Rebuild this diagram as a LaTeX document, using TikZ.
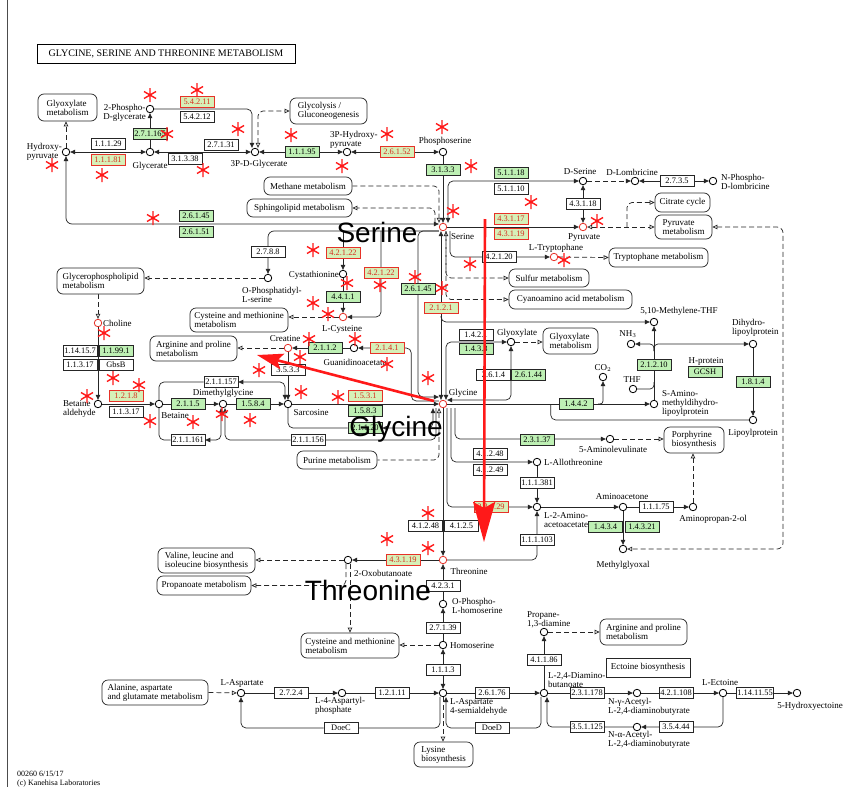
\documentclass[tikz,border=0pt]{standalone}
\usepackage{fontspec}
\setmainfont{Liberation Serif}
\newfontfamily\bigsans{Liberation Sans}
\usetikzlibrary{arrows.meta}
\pgfdeclarelayer{bg}
\pgfdeclarelayer{fg}
\pgfsetlayers{bg,main,fg}
\definecolor{kgreen}{RGB}{190,240,180}
\definecolor{kyel}{RGB}{214,240,184}
\definecolor{kred}{RGB}{215,45,30}
\definecolor{kbord}{RGB}{230,50,40}
\definecolor{astred}{RGB}{255,25,25}
\begin{document}
\begin{tikzpicture}[x=1pt,y=-1pt,
 cpd/.style={circle,draw=black,line width=0.8pt,minimum size=7.5pt,inner sep=0pt,fill=white},
 cpdr/.style={cpd,draw=kbord},
 lb/.style={inner sep=0pt,font=\fontsize{9}{9}\selectfont,align=center},
 ez/.style={draw=black!85,line width=0.6pt,fill=white,minimum width=34pt,minimum height=11pt,inner sep=0.6pt,font=\fontsize{8.4}{8.4}\selectfont},
 ezg/.style={ez,fill=kgreen},
 ezr/.style={ez,fill=kyel,draw=kbord,text=kred},
 pw/.style={draw=black!85,line width=0.7pt,rounded corners=6pt,fill=white,inner sep=0pt,align=left,font=\fontsize{9}{9}\selectfont},
 rx/.style={line width=0.7pt,draw=black!85},
 dsh/.style={line width=0.7pt,draw=black!85,dash pattern=on 5pt off 3pt},
 ar/.style={-{Triangle[length=5pt,width=4.5pt]}},
 ab/.style={{Triangle[length=5pt,width=4.5pt]}-{Triangle[length=5pt,width=4.5pt]}},
 oa/.style={-{Triangle[open,length=5pt,width=4.5pt]}},
 oab/.style={{Triangle[open,length=5pt,width=4.5pt]}-{Triangle[open,length=5pt,width=4.5pt]}},
 roa/.style={{Triangle[open,length=5pt,width=4.5pt]}-},
 ast/.pic={\draw[astred,line width=1.4pt] (0,-7)--(0,7) (-6,-3.5)--(6,3.5) (-6,3.5)--(6,-3.5);},
 bigl/.style={font=\bigsans\fontsize{28}{28}\selectfont,inner sep=0pt,anchor=base}
]
\useasboundingbox (0,0) rectangle (846,787);
\begin{pgfonlayer}{bg}
\fill[white] (0,0) rectangle (846,787);
\end{pgfonlayer}
\coordinate (bt) at (7,0); \coordinate (bb) at (7,787);
\draw[line width=0.8pt,black!70] (bt) -- (bb);

\node[draw=black,line width=0.9pt,minimum width=258pt,minimum height=19pt,inner sep=0pt,font=\fontsize{10}{10}\selectfont] (title) at (166,54) {GLYCINE, SERINE AND THREONINE METABOLISM};
\node[lb,anchor=north west,align=left,font=\fontsize{8}{8.5}\selectfont] (foot) at (17,771) {00260 6/15/17\\(c) Kanehisa Laboratories};

% pathway boxes
\node[pw,minimum width=59pt,minimum height=27pt] (pwGlyox1) at (67.5,107.5) {Glyoxylate\\metabolism};
\node[pw,minimum width=77pt,minimum height=26pt] (pwGlycol) at (328.5,111) {Glycolysis /\\Gluconeogenesis};
\node[pw,minimum width=88pt,minimum height=18pt] (pwMethane) at (308,186) {Methane metabolism};
\node[pw,minimum width=105pt,minimum height=18pt] (pwSphingo) at (299.5,208) {Sphingolipid metabolism};
\node[pw,minimum width=55pt,minimum height=19pt] (pwCitrate) at (682.5,202.5) {Citrate cycle};
\node[pw,minimum width=57pt,minimum height=24pt] (pwPyr) at (683.5,227) {Pyruvate\\metabolism};
\node[pw,minimum width=99pt,minimum height=19pt] (pwTrp) at (658.5,257.5) {Tryptophane metabolism};
\node[pw,minimum width=80pt,minimum height=18pt] (pwSulfur) at (549,278) {Sulfur metabolism};
\node[pw,minimum width=123pt,minimum height=19pt] (pwCyano) at (570.5,299.5) {Cyanoamino acid metabolism};
\node[pw,minimum width=87pt,minimum height=26pt] (pwGlycero) at (100.5,281) {Glycerophospholipid\\metabolism};
\node[pw,minimum width=98pt,minimum height=24pt] (pwCysMet1) at (239,320) {Cysteine and methionine\\metabolism};
\node[pw,minimum width=87pt,minimum height=25pt] (pwArgPro1) at (193.5,348.5) {Arginine and proline\\metabolism};
\node[pw,minimum width=55pt,minimum height=26pt] (pwGlyox2) at (570.5,341) {Glyoxylate\\metabolism};
\node[pw,minimum width=80pt,minimum height=18pt] (pwPurine) at (337,460) {Purine metabolism};
\node[pw,minimum width=60pt,minimum height=26pt] (pwPorph) at (694,440) {Porphyrine\\biosynthesis};
\node[pw,minimum width=97pt,minimum height=25pt] (pwVal) at (206.5,560.5) {Valine, leucine and\\isoleucine biosynthesis};
\node[pw,minimum width=94pt,minimum height=19pt] (pwProp) at (204,585.5) {Propanoate metabolism};
\node[pw,minimum width=98pt,minimum height=25pt] (pwCysMet2) at (350,645.5) {Cysteine and methionine\\metabolism};
\node[pw,minimum width=87pt,minimum height=26pt] (pwArgPro2) at (643.5,632) {Arginine and proline\\metabolism};
\node[pw,sharp corners,minimum width=84pt,minimum height=19pt] (pwEctoine) at (648,667.5) {Ectoine biosynthesis};
\node[pw,minimum width=106pt,minimum height=25pt] (pwAla) at (155,692.5) {Alanine, aspartate\\and glutamate metabolism};
\node[pw,minimum width=59pt,minimum height=25pt] (pwLys) at (443.5,754.5) {Lysine\\biosynthesis};

% compounds
\node[cpd] (pg2) at (150,109) {};
\node[cpd] (glycerate) at (150,152) {};
\node[cpd] (hpyr) at (66,152) {};
\node[cpd] (pdg3) at (255,152) {};
\node[cpd] (hp3) at (347,152) {};
\node[cpd] (pser) at (443,152) {};
\node[cpdr] (ser) at (443,227) {};
\node[cpd] (dser) at (583,181) {};
\node[cpd] (dlomb) at (635,181) {};
\node[cpd] (npdl) at (713,181) {};
\node[cpdr] (pyr) at (583,227) {};
\node[cpdr] (ltrp) at (554,257) {};
\node[cpd] (mthf) at (654,322) {};
\node[cpd] (nh3) at (631,344) {};
\node[cpd] (dhlp) at (753,344) {};
\node[cpd] (co2) at (603,377) {};
\node[cpd] (thf) at (633,389) {};
\node[cpd] (samd) at (654,404) {};
\node[cpd] (lipo) at (753,420) {};
\node[cpd] (glyox) at (511,342) {};
\node[cpdr] (gly) at (443,404) {};
\node[cpd] (ala5) at (610,439) {};
\node[cpd] (athr) at (537,462) {};
\node[cpd] (l2aa) at (537,507) {};
\node[cpd] (amac) at (623,507) {};
\node[cpd] (ap2ol) at (693,507) {};
\node[cpd] (mgx) at (623,549) {};
\node[cpdr] (thr) at (443,560) {};
\node[cpd] (oxb) at (348,560) {};
\node[cpd] (oplh) at (443,604) {};
\node[cpd] (hser) at (443,645) {};
\node[cpd] (asa) at (443,693) {};
\node[cpd] (lasp) at (241,693) {};
\node[cpd] (l4ap) at (342,693) {};
\node[cpd] (dab) at (544,693) {};
\node[cpd] (p13d) at (544,632) {};
\node[cpd] (nga) at (637,693) {};
\node[cpd] (naa) at (637,727) {};
\node[cpd] (lect) at (723,693) {};
\node[cpd] (hect) at (797,693) {};
\node[cpdr] (choline) at (98,323) {};
\node[cpd] (betald) at (98,404) {};
\node[cpd] (betaine) at (159,404) {};
\node[cpd] (dmg) at (223,404) {};
\node[cpd] (sarc) at (288,404) {};
\node[cpdr] (creatine) at (288,348) {};
\node[cpd] (gaa) at (354,348) {};
\node[cpdr] (cys) at (343,317) {};
\node[cpd] (cysta) at (343,274) {};
\node[cpd] (opls) at (268,278) {};

% enzymes
\node[ezr] (e54211) at (197,102) {5.4.2.11};
\node[ez] (e54212) at (197,117) {5.4.2.12};
\node[ezg] (e271165) at (150,134) {2.7.1.165};
\node[ez] (e11129) at (108,144) {1.1.1.29};
\node[ezr] (e11181) at (108,160) {1.1.1.81};
\node[ez] (e27131) at (221,145) {2.7.1.31};
\node[ez] (e31338) at (185,159) {3.1.3.38};
\node[ezg] (e11195) at (302,152) {1.1.1.95};
\node[ezr] (e26152) at (397,152) {2.6.1.52};
\node[ezg] (e3133) at (443,170) {3.1.3.3};
\node[ezg] (e26145a) at (196,216) {2.6.1.45};
\node[ezg] (e26151) at (196,232) {2.6.1.51};
\node[ezg] (e51118) at (511,173) {5.1.1.18};
\node[ez] (e51110) at (511,189) {5.1.1.10};
\node[ez] (e43118) at (583,204) {4.3.1.18};
\node[ez] (e2735) at (677,181) {2.7.3.5};
\node[ezr] (e43117) at (511,219) {4.3.1.17};
\node[ezr] (e43119a) at (511,234) {4.3.1.19};
\node[ez] (e42120) at (499,257) {4.2.1.20};
\node[ez] (e2788) at (268,252) {2.7.8.8};
\node[ezr] (e42122a) at (343,253) {4.2.1.22};
\node[ezr] (e42122b) at (381,273) {4.2.1.22};
\node[ezg] (e4411) at (343,297) {4.4.1.1};
\node[ezg] (e26145b) at (418,289) {2.6.1.45};
\node[ezr] (e2121) at (441,308) {2.1.2.1};
\node[ezg] (e2112) at (325,348) {2.1.1.2};
\node[ezr] (e2141) at (387,348) {2.1.4.1};
\node[ez] (e3533) at (288,370) {3.5.3.3};
\node[ezr] (e1531) at (365,396) {1.5.3.1};
\node[ezg] (e1583) at (365,411) {1.5.8.3};
\node[ezg] (e21120) at (365,428) {2.1.1.20};
\node[ez] (e211156) at (308,440) {2.1.1.156};
\node[ez] (e211157) at (221,382) {2.1.1.157};
\node[ezg] (e2115) at (188,404) {2.1.1.5};
\node[ezg] (e1584) at (253,404) {1.5.8.4};
\node[ez] (e211161) at (188,440) {2.1.1.161};
\node[ezr] (e1218) at (126,396) {1.2.1.8};
\node[ez] (e11317a) at (126,412) {1.1.3.17};
\node[ez] (e114157) at (80,351) {1.14.15.7};
\node[ezg] (e11991) at (116,351) {1.1.99.1};
\node[ez] (e11317b) at (80,365) {1.1.3.17};
\node[ez] (egbsb) at (116,365) {GbsB};
\node[ez] (e1421) at (476,335) {1.4.2.1};
\node[ezg] (e1433) at (476,349) {1.4.3.3};
\node[ez] (e2614) at (493.5,375) {2.6.1.4};
\node[ezg] (e26144) at (528.5,375) {2.6.1.44};
\node[ezg] (e1442) at (576,404) {1.4.4.2};
\node[ezg] (e21210) at (654,365) {2.1.2.10};
\node[ezg] (egcsh) at (705,372) {GCSH};
\node[ezg] (e1814) at (753,382) {1.8.1.4};
\node[ezg] (e23137) at (537,440) {2.3.1.37};
\node[ez] (e41248a) at (490,454) {4.1.2.48};
\node[ez] (e41249) at (490,470) {4.1.2.49};
\node[ez] (e111381) at (537,483) {1.1.1.381};
\node[ezr] (e23129) at (491,507) {2.3.1.29};
\node[ez] (e111103) at (537,540) {1.1.1.103};
\node[ez] (e11175) at (656,507) {1.1.1.75};
\node[ezg] (e1434) at (605.5,527) {1.4.3.4};
\node[ezg] (e14321) at (642,527) {1.4.3.21};
\node[ez] (e41248b) at (425.5,526) {4.1.2.48};
\node[ez] (e4125) at (461.5,526) {4.1.2.5};
\node[ezr] (e43119b) at (403,560) {4.3.1.19};
\node[ez] (e4231) at (443,586) {4.2.3.1};
\node[ez] (e27139) at (443,628) {2.7.1.39};
\node[ez] (e1113) at (443,670) {1.1.1.3};
\node[ez] (e2724) at (291,693) {2.7.2.4};
\node[ez] (e12111) at (392,693) {1.2.1.11};
\node[ez] (e26176) at (492,693) {2.6.1.76};
\node[ez] (edoec) at (341,728) {DoeC};
\node[ez] (edoed) at (492,728) {DoeD};
\node[ez] (e41186) at (544,660) {4.1.1.86};
\node[ez] (e231178) at (587,693) {2.3.1.178};
\node[ez] (e421108) at (676,693) {4.2.1.108};
\node[ez] (e1141155) at (755,693) {1.14.11.55};
\node[ez] (e351125) at (587,727) {3.5.1.125};
\node[ez] (e35444) at (676,727) {3.5.4.44};

% labels
\node[lb,anchor=east] (Lpg2) at (146,113) {2-Phospho-\\D-glycerate};
\node[lb] (Lglycerate) at (150,166) {Glycerate};
\node[lb,anchor=east,align=left] (Lhpyr) at (62,152) {Hydroxy-\\pyruvate};
\node[lb] (Lpdg3) at (259,164) {3P-D-Glycerate};
\node[lb,anchor=west,align=left] (Lhp3) at (330,140) {3P-Hydroxy-\\pyruvate};
\node[lb] (Lpser) at (445,141) {Phosphoserine};
\node[lb,anchor=west] (Lser) at (451,237) {Serine};
\node[lb] (Ldser) at (580,172) {D-Serine};
\node[lb] (Ldlomb) at (632,172) {D-Lombricine};
\node[lb,anchor=west,align=left] (Lnpdl) at (721,182) {N-Phospho-\\D-lombricine};
\node[lb] (Lpyr) at (584,238) {Pyruvate};
\node[lb] (Lltrp) at (556,248) {L-Tryptophane};
\node[lb] (Lmthf) at (679,311) {5,10-Methylene-THF};
\node[lb] (Lnh3) at (628,334) {NH$_3$};
\node[lb,anchor=west,align=left] (Ldhlp) at (732,328) {Dihydro-\\lipoylprotein};
\node[lb] (Lco2) at (603,368) {CO$_2$};
\node[lb] (Lthf) at (632,380) {THF};
\node[lb,anchor=west,align=left] (Lsamd) at (662,403) {S-Amino-\\methyldihydro-\\lipoylprotein};
\node[lb] (Llipo) at (753,433) {Lipoylprotein};
\node[lb] (Lglyox) at (517,333) {Glyoxylate};
\node[lb] (Lgly) at (463,393) {Glycine};
\node[lb] (Lala5) at (613,449) {5-Aminolevulinate};
\node[lb,anchor=west] (Lathr) at (544,462) {L-Allothreonine};
\node[lb,anchor=west,align=left] (Ll2aa) at (544,520) {L-2-Amino-\\acetoacetate};
\node[lb] (Lamac) at (622,497) {Aminoacetone};
\node[lb] (Lap2ol) at (713,519) {Aminopropan-2-ol};
\node[lb] (Lmgx) at (623,565) {Methylglyoxal};
\node[lb] (Lthr) at (469,571) {Threonine};
\node[lb] (Loxb) at (383,573) {2-Oxobutanoate};
\node[lb,anchor=west,align=left] (Loplh) at (452,606) {O-Phospho-\\L-homoserine};
\node[lb,anchor=west] (Lhser) at (450,646) {Homoserine};
\node[lb,anchor=west,align=left] (Lasa) at (450,707) {L-Aspartate\\4-semialdehyde};
\node[lb] (Llasp) at (242,683) {L-Aspartate};
\node[lb,anchor=west,align=left] (Ll4ap) at (315,706) {L-4-Aspartyl-\\phosphate};
\node[lb,anchor=west,align=left] (Ldab) at (548,680) {L-2,4-Diamino-\\butanoate};
\node[lb,anchor=west,align=left] (Lp13d) at (527,620) {Propane-\\1,3-diamine};
\node[lb,anchor=west,align=left] (Lnga) at (608,707) {N-γ-Acetyl-\\L-2,4-diaminobutyrate};
\node[lb,anchor=west,align=left] (Lnaa) at (608,740) {N-α-Acetyl-\\L-2,4-diaminobutyrate};
\node[lb] (Llect) at (720,683) {L-Ectoine};
\node[lb] (Lhect) at (810,706) {5-Hydroxyectoine};
\node[lb,anchor=west] (Lcholine) at (103,323) {Choline};
\node[lb,anchor=west,align=left] (Lbetald) at (63,409) {Betaine\\aldehyde};
\node[lb] (Lbetaine) at (175,416) {Betaine};
\node[lb] (Ldmg) at (223,393) {Dimethylglycine};
\node[lb] (Lsarc) at (311,413) {Sarcosine};
\node[lb] (Lcreatine) at (285,339) {Creatine};
\node[lb] (Lgaa) at (355,362) {Guanidinoacetate};
\node[lb] (Lcys) at (342,329) {L-Cysteine};
\node[lb,anchor=east] (Lcysta) at (339,275) {Cystathionine};
\node[lb,anchor=west,align=left] (Lopls) at (242,295) {O-Phosphatidyl-\\L-serine};
\node[lb] (Lhprot) at (706,361) {H-protein};

% helper coordinates
\coordinate (sl) at ([yshift=-4pt]ser.west);
\coordinate (mb) at (441,316);
\coordinate (cob) at (598,404);
\coordinate (nb) at (654,351);
\coordinate (tb) at (654,382);
\coordinate (pc) at (627,227);
\coordinate (dl) at (783,549);
\coordinate (oxc) at ([xshift=2pt]oxb.south);

\begin{pgfonlayer}{bg}
\draw[rx,ar,rounded corners=5] (pg2) -| ([xshift=-3pt]pdg3.north);
\draw[dsh,oab,rounded corners=5] ([xshift=3pt]pdg3.north) |- (pwGlycol.west);
\draw[rx,ar] (glycerate) -- (pg2);
\draw[rx,ab] (hpyr) -- (glycerate);
\draw[rx,ab] (glycerate) -- (pdg3);
\draw[rx,ab] (pdg3) -- (hp3);
\draw[rx,ab] (hp3) -- (pser);
\draw[rx,ar] (pser) -- (ser);
\draw[dsh,oa] (hpyr) -- (hpyr |- pwGlyox1.south);
\draw[rx,ab,rounded corners=6] (hpyr) |- ([yshift=3pt]ser.west);
\draw[dsh,oa,rounded corners=5] (pwMethane.east) -| ([xshift=-4pt]ser.north);
\draw[dsh,oa,rounded corners=5] ([xshift=-8pt]ser.north) |- (pwSphingo.east);
\draw[rx,ar,rounded corners=6] (sl) -| (opls);
\draw[rx,ar] (cysta |- sl) -- (cysta);
\draw[rx,ar,rounded corners=5] (e42122b |- sl) |- (cys);
\draw[rx,ar] (cysta) -- (cys);
\draw[dsh,oa] (cys) -- (cys -| pwCysMet1.east);
\draw[dsh,oa] (opls) -- (opls -| pwGlycero.east);
\draw[dsh,oa] (pwGlycero.south -| choline) -- (choline);
\draw[rx,ar] (choline) -- (betald);
\draw[rx,ar] (betald) -- (betaine);
\draw[rx,ar] (betaine) -- (dmg);
\draw[rx,ar] (dmg) -- (sarc);
\draw[rx,ab,rounded corners=5] (betaine) |- (e211157) -| ([xshift=-3pt]sarc.north);
\draw[rx,ar] (creatine) -- (sarc);
\draw[rx,ab,rounded corners=5] (betaine) |- (e211161) -| ([xshift=-2pt]dmg.south);
\draw[rx,ar,rounded corners=5] ([xshift=-7pt]gly.south) |- (e211156) -| ([xshift=2pt]dmg.south);
\draw[rx,ar] (sarc) -- (gly);
\draw[rx,ab,rounded corners=5] (sarc) |- (e21120) -| ([xshift=-10pt]gly.south);
\draw[dsh,roa,rounded corners=5] ([xshift=-4pt]gly.south) |- (pwPurine.east);
\draw[rx,ar,rounded corners=5] (sl) -| (e26145b) |- ([yshift=7pt]gly.west);
\draw[rx,ar,rounded corners=5] ([yshift=3pt]gly.west) -| ([xshift=7pt]e2141.east) -- (gaa);
\draw[rx,ar] (gaa) -- (creatine);
\draw[dsh,oa] (creatine) -- (creatine -| pwArgPro1.east);
\draw[rx,ab] ([xshift=-2pt]ser.south) -- ([xshift=-2pt]gly.north);
\draw[rx,ar,rounded corners=5] (mb) |- (mthf);
\draw[rx,ab,rounded corners=5] ([xshift=3pt]gly.north) |- (glyox);
\draw[dsh,oa] (glyox) -- (glyox -| pwGlyox2.west);
\draw[rx,ab,rounded corners=5] (glyox) |- ([yshift=4pt]gly.east);
\draw[rx,ar] (gly) -- (samd);
\draw[rx,ar,rounded corners=3] (cob) -| (co2);
\draw[rx,ar] (samd) -- (mthf);
\draw[rx,ar,rounded corners=4] (nb) |- (nh3);
\draw[rx,ar,rounded corners=4] (nb) |- (dhlp);
\draw[rx,rounded corners=4] (thf) -| (tb);
\draw[rx,ar] (dhlp) -- (lipo);
\draw[rx,rounded corners=5] (lipo) -| ([xshift=-8pt]e1442.west);
\draw[rx,ab,rounded corners=5] ([xshift=5pt]ser.north) |- (dser);
\draw[rx,ab] (dser) -- (pyr);
\draw[rx,ar] (ser) -- (pyr);
\draw[dsh,ar] (dser) -- (dlomb);
\draw[rx,ab] (dlomb) -- (npdl);
\draw[dsh,oa,rounded corners=5] (pc) |- (pwCitrate.west);
\draw[dsh,oab] (pyr) -- (pwPyr.west);
\draw[dsh,oab,rounded corners=6] (pwPyr.east) -| (dl) -- (mgx);
\draw[rx,ar,rounded corners=5] ([xshift=7pt]ser.south) |- (ltrp);
\draw[dsh,oa] (ltrp) -- (pwTrp.west);
\draw[dsh,oab,rounded corners=5] ([xshift=3pt]ser.south) |- (pwCyano.west);
\draw[dsh,oa,rounded corners=5] ([xshift=3pt]ser.south) |- (pwSulfur.west);
\draw[rx,ar,line width=1pt] (gly) -- (thr);
\draw[rx,ar,rounded corners=5] ([xshift=4pt]gly.south) |- (l2aa);
\draw[rx,ar,rounded corners=5] ([xshift=8pt]gly.south) |- (athr);
\draw[rx,ar,rounded corners=5] ([xshift=12pt]gly.south) |- (ala5);
\draw[dsh,oa] (ala5) -- (ala5 -| pwPorph.west);
\draw[rx,ar] (athr) -- (l2aa);
\draw[rx,ar,rounded corners=5] (thr) -| (l2aa);
\draw[rx,ar] (l2aa) -- (amac);
\draw[rx,ar] (amac) -- (ap2ol);
\draw[rx,ar] (amac) -- (mgx);
\draw[dsh,oa] (ap2ol) -- (ap2ol |- pwPorph.south);
\draw[rx,ar] (thr) -- (oxb);
\draw[dsh,oa] (oxb) -- (oxb -| pwVal.east);
\draw[dsh,oa,rounded corners=5] ([xshift=-2pt]oxb.south) |- (pwProp.east);
\draw[dsh,oa] (oxc) -- (oxc |- pwCysMet2.north);
\draw[rx,ar] (oplh) -- (thr);
\draw[rx,ar] (hser) -- (oplh);
\draw[rx,ab] (asa) -- (hser);
\draw[dsh,oa] (hser) -- (hser -| pwCysMet2.east);
\draw[dsh,oa] (asa) -- (asa |- pwLys.north);
\draw[dsh,oa] (pwAla.east) -- (lasp);
\draw[rx,ar] (lasp) -- (l4ap);
\draw[rx,ar] (l4ap) -- (asa);
\draw[rx,ar] (asa) -- (dab);
\draw[rx,ar,rounded corners=5] ([xshift=-3pt]asa.south) |- (edoec) -| (lasp);
\draw[rx,ar,rounded corners=5] ([xshift=-3pt]dab.south) |- (edoed) -| ([xshift=3pt]asa.south);
\draw[rx,ar] (dab) -- (p13d);
\draw[dsh,oa] (p13d) -- (p13d -| pwArgPro2.west);
\draw[rx,ar] (dab) -- (nga);
\draw[rx,ar] (nga) -- (lect);
\draw[rx,ar] (lect) -- (hect);
\draw[rx,ar,rounded corners=5] (lect) |- (naa);
\draw[rx,ar,rounded corners=5] (naa) -| ([xshift=3pt]dab.south);
\end{pgfonlayer}

\begin{pgfonlayer}{fg}
\node[bigl] (bSer) at (377,242) {Serine};
\node[bigl] (bGly) at (396,436) {Glycine};
\node[bigl] (bThr) at (368,600) {Threonine};
\foreach \x/\y in {150/95,197/90,167/134,238/129,52/165,102/175,203/170,153/218,291/135,342/166,387/134,442/127,471/166,453/211,313/250,470/264,531/202,597/221,564/260,415/277,442/288,347/283,380/285,313/303,328/314,309/339,355/339,300/357,387/364,301/392,338/397,428/378,104/333,113/378,139/385,87/396,150/421,193/422,222/414,250/420,259/370,428/513,387/539,428/548}
  {\pic at (\x,\y) {ast};}
\coordinate (rv1) at (485,219); \coordinate (rv2) at (484,542);
\draw[astred,line width=2.6pt,-{Stealth[length=40pt,width=22pt,inset=6pt]}] (rv1) -- (rv2);
\coordinate (rd1) at (434,401); \coordinate (rd2) at (257,355);
\draw[astred,line width=2.6pt,-{Stealth[length=26pt,width=16pt,inset=5pt]}] (rd1) -- (rd2);
\end{pgfonlayer}
\end{tikzpicture}
\end{document}
